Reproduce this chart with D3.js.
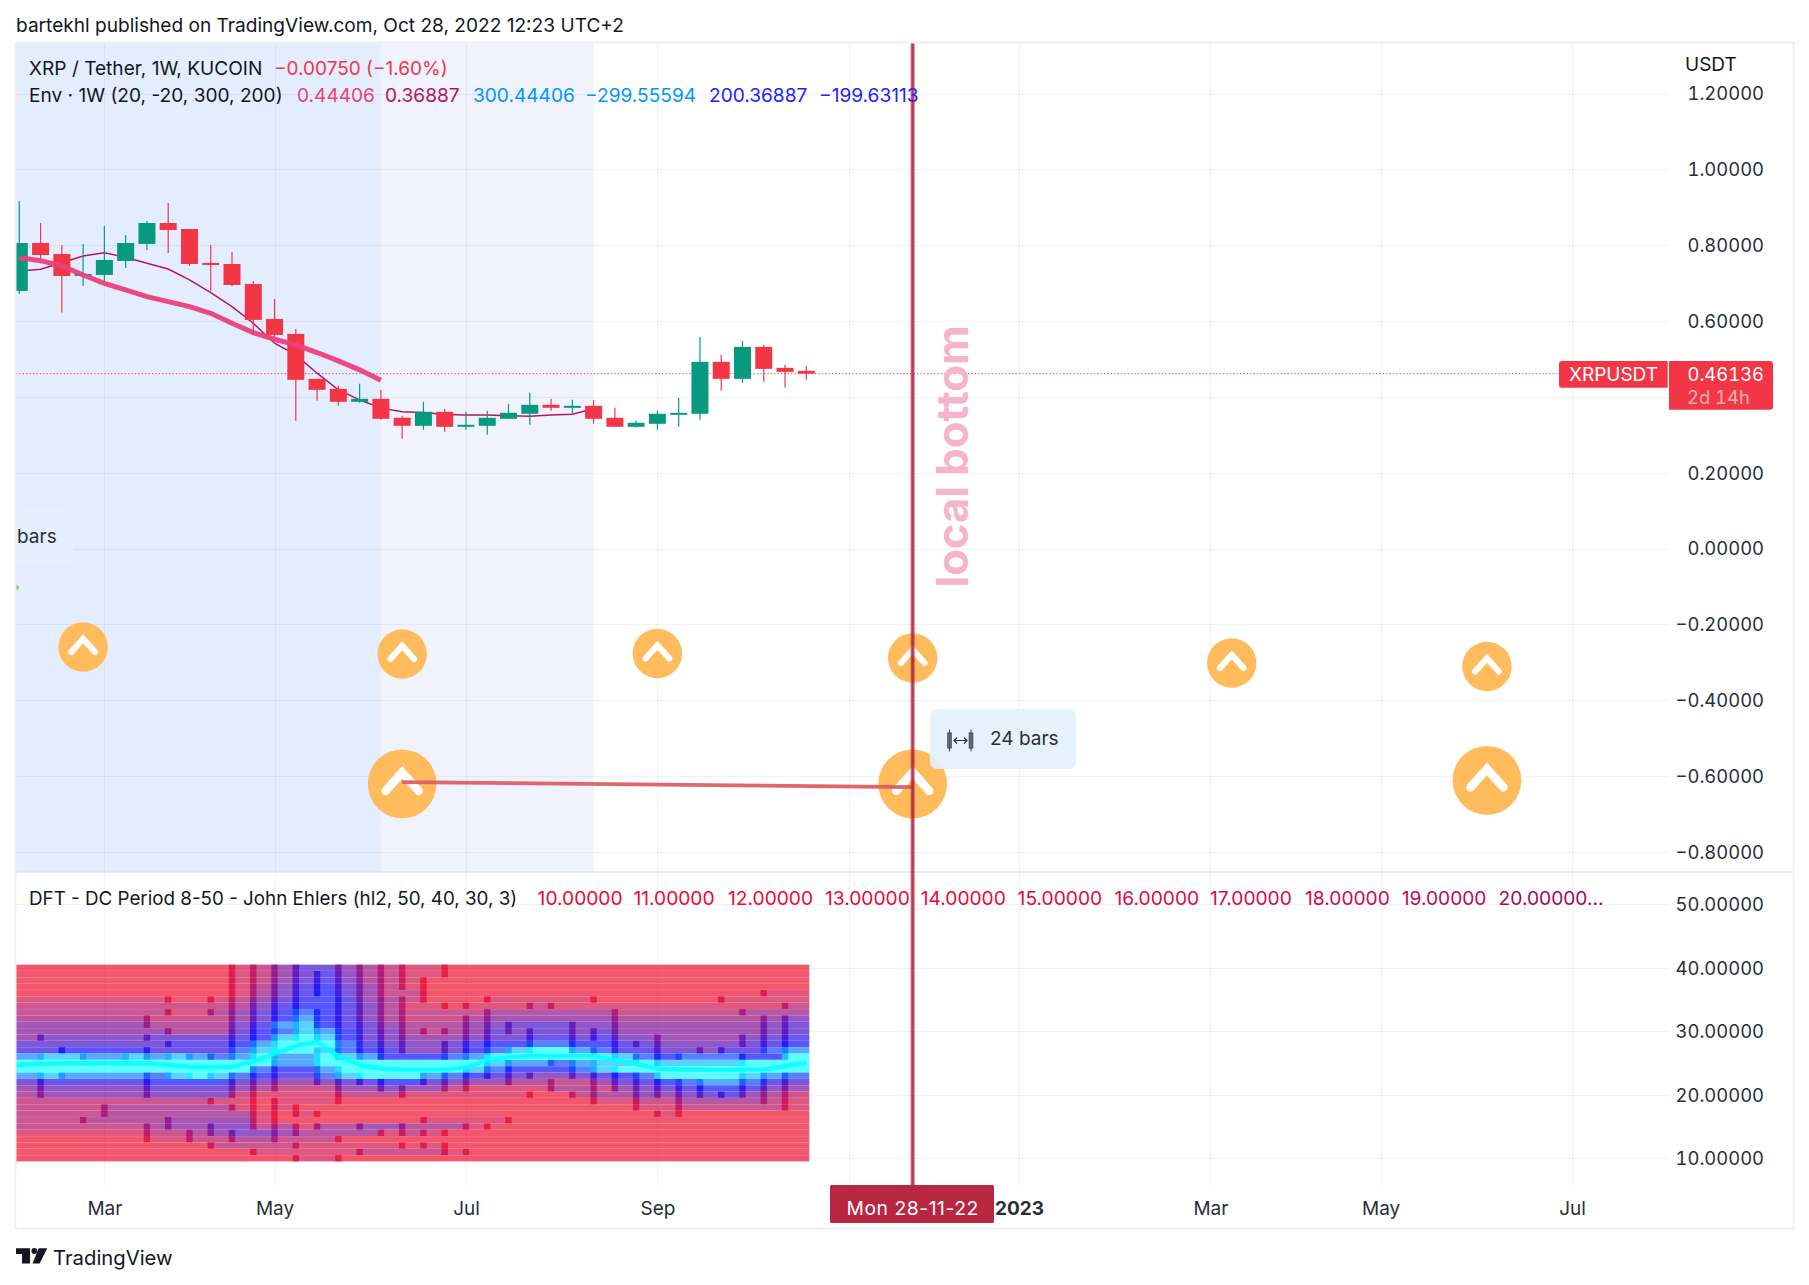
<!DOCTYPE html>
<html><head><meta charset="utf-8">
<script src="https://cdn.jsdelivr.net/npm/d3@7/dist/d3.min.js"></script>
<style>html,body{margin:0;padding:0;background:#fff}svg{display:block}text{font-family:Inter,"Noto Sans",sans-serif}.tab text,text.tab{font-variant-numeric:tabular-nums}</style>
</head><body><div id="chart"></div>
<script>
// ---------- weekly candles (bar 0 .. bar 37), price in USDT
const opens =[.6796,.8061,.7771,.7191,.7218,.7587,.8035,.8588,.8430,.7534,.7507,.6980,.6058,.5663,.4477,.4213,.3871,.3950,.3450,.3238,.3607,.3212,.3238,.3423,.3555,.3792,.3713,.3765,.3449,.3212,.3291,.3528,.3555,.4925,.4477,.5320,.4767,.46886];
const highs =[.9168,.8588,.8008,.8035,.8509,.8271,.8640,.9115,.8430,.8008,.7823,.7059,.6585,.5795,.4477,.4293,.4345,.4187,.3503,.3871,.3686,.3607,.3634,.3818,.4108,.3950,.3923,.3923,.3713,.3370,.3634,.3976,.5584,.5109,.5478,.5373,.4846,.4819];
const lows  =[.6717,.7525,.6225,.6928,.7033,.7402,.7876,.7797,.7454,.6796,.6927,.5636,.5584,.3370,.3897,.3765,.3845,.3397,.2896,.3133,.3080,.3133,.3001,.3423,.3265,.3634,.3555,.3291,.3212,.3186,.3133,.3212,.3396,.4161,.4371,.4398,.4240,.4451];
const closes=[.8061,.7744,.7191,.7244,.7613,.8061,.8588,.8403,.7507,.7481,.6954,.6032,.5636,.4451,.4187,.3871,.3950,.3423,.3238,.3607,.3212,.3265,.3449,.3581,.3792,.3713,.3765,.3423,.3212,.3318,.3555,.3581,.4925,.4477,.5320,.4740,.4661,.46136];
// envelope lines (they stop at bars 17 and 27)
const envUpper=[.7674,.7595,.7454,.7217,.6998,.6822,.6646,.6515,.6383,.6207,.5944,.5698,.5522,.5372,.5171,.4951,.4714,.44406];
const envLower=[.7323,.7367,.7542,.7718,.7806,.7683,.7525,.7375,.7086,.6752,.6383,.5944,.5417,.5109,.4626,.4187,.3924,.3704,.3607,.3590,.3537,.3520,.3520,.3502,.3493,.3520,.3546,.36887];
// DFT dominant cycle line
const dcPeriod=[24.69,24.85,24.95,24.95,24.95,24.95,24.95,24.69,24.43,24.32,24.43,25.2,26.5,27.7,28.4,26.0,24.69,24.16,24.0,24.0,24.0,24.3,25.5,25.9,26.1,26.1,26.1,26.1,25.5,24.85,24.16,24.0,24.0,23.9,24.0,24.0,24.5,25.06];
// DFT spectrum: one array per period row, one power level (0 red .. 8 blue .. 12 cyan) per bar
const heat40=[0,0,0,0,0,0,0,0,0,0,1,2,4,6,6,4,3,2,1,1,0,0,0,0,0,0,0,0,0,0,0,0,0,0,0,0,0,0];
const heat39=[0,0,0,0,0,0,0,0,0,0,1,2,4,6,7,5,3,2,1,1,0,0,0,0,0,0,0,0,0,0,0,0,0,0,0,0,0,0];
const heat38=[0,0,0,0,0,0,0,0,0,0,1,2,4,6,7,5,3,2,1,0,0,0,0,0,0,0,0,0,0,0,0,0,0,0,0,0,0,0];
const heat37=[0,0,0,0,0,0,0,0,0,0,1,3,5,7,8,6,4,2,1,0,0,0,0,0,0,0,0,0,0,0,0,0,0,0,0,0,0,0];
const heat36=[0,0,0,0,0,0,0,0,0,0,1,3,5,7,8,6,4,2,2,0,0,0,0,0,0,0,0,0,0,0,0,0,0,0,0,1,1,1];
const heat35=[1,1,1,1,1,1,1,0,0,1,2,4,6,8,8,7,4,3,2,0,0,0,1,1,1,1,1,0,0,0,0,0,0,1,1,1,1,1];
const heat34=[2,2,2,2,2,2,2,2,2,2,3,5,7,8,8,7,5,3,1,1,0,1,1,1,2,1,1,1,1,1,1,1,1,1,1,1,2,2];
const heat33=[2,2,2,2,2,2,2,1,1,3,4,6,8,9,8,7,5,3,2,2,2,2,3,3,3,3,3,3,2,2,2,2,2,2,3,3,3,3];
const heat32=[3,3,3,3,3,3,2,2,2,2,4,6,8,10,8,7,5,3,2,2,2,3,4,4,4,4,4,4,3,3,3,3,3,3,3,4,5,5];
const heat31=[4,4,4,4,4,4,3,3,3,3,5,7,10,11,8,7,6,4,3,3,3,4,5,6,6,6,5,5,4,4,4,4,4,4,4,5,6,6];
const heat30=[4,4,4,4,4,4,4,3,3,3,6,8,9,11,10,8,6,5,3,2,3,4,6,5,6,6,5,6,4,4,4,4,4,4,4,5,6,6];
const heat29=[4,5,5,5,5,5,6,6,6,6,7,8,11,12,11,8,6,5,4,4,4,5,6,6,7,7,6,7,5,5,4,4,4,4,5,6,7,7];
const heat28=[6,6,6,6,6,6,6,7,7,7,8,10,12,12,12,9,7,6,5,5,6,7,8,8,9,9,8,8,7,6,5,5,5,5,6,7,8,8];
const heat27=[7,7,8,8,8,8,7,7,7,7,9,11,12,12,11,9,8,7,5,5,6,8,9,11,12,12,10,9,7,7,6,6,5,7,7,9,10,10];
const heat26=[10,11,11,10,10,11,10,11,10,9,10,12,10,10,12,11,10,8,8,8,9,10,12,12,12,12,12,12,11,9,8,9,9,9,8,8,12,12];
const heat25=[12,12,12,12,12,12,12,12,12,12,12,12,10,10,12,12,12,12,12,12,12,12,11,10,10,9,10,11,11,12,11,11,11,11,12,12,12,12];
const heat24=[12,12,12,12,12,12,12,12,12,12,12,9,8,8,10,12,12,12,12,12,12,11,9,8,8,8,9,11,12,12,12,12,12,12,12,12,12,12];
const heat23=[10,11,10,10,10,10,9,11,12,11,9,8,7,7,9,11,12,12,12,10,9,8,7,6,5,5,6,7,8,9,12,12,12,12,11,10,9,9];
const heat22=[6,7,7,7,7,7,8,8,8,8,6,5,4,4,5,6,7,8,8,6,5,4,4,3,3,2,2,4,6,7,8,9,10,10,9,7,6,6];
const heat21=[4,5,5,5,5,5,6,6,6,6,4,3,2,2,2,4,4,5,4,4,2,1,1,1,1,3,3,2,4,5,6,7,8,8,7,5,4,4];
const heat20=[3,4,4,4,4,4,5,5,5,5,2,1,1,1,1,2,2,2,1,1,1,1,1,1,0,0,2,3,3,5,4,5,6,7,4,3,2,2];
const heat19=[2,2,2,2,2,2,2,2,2,1,1,0,1,1,1,0,0,0,0,0,0,0,0,0,0,0,0,1,1,2,2,3,3,3,3,2,1,1];
const heat18=[2,2,2,2,3,3,3,3,3,3,1,0,1,0,0,0,0,0,0,0,0,0,0,0,0,0,0,0,0,1,1,2,2,2,2,2,1,1];
const heat17=[2,2,2,2,3,3,3,3,3,3,3,1,0,1,0,0,0,0,0,0,0,0,0,0,0,0,0,0,0,0,1,0,0,0,0,0,0,0];
const heat16=[2,2,2,3,3,3,3,4,4,4,4,1,0,0,0,0,0,0,0,1,1,1,1,0,0,0,0,0,0,0,0,0,0,0,0,0,0,0];
const heat15=[2,2,2,2,2,2,3,4,4,5,5,2,3,1,3,3,4,4,3,3,3,1,0,0,0,0,0,0,0,0,0,0,0,0,0,0,0,0];
const heat14=[1,1,1,1,1,1,2,2,3,4,5,5,4,3,3,3,3,1,2,1,0,0,0,0,0,0,0,0,0,0,0,0,0,0,0,0,0,0];
const heat13=[0,0,0,0,0,0,1,1,2,2,3,3,2,2,2,0,0,0,0,0,0,0,0,0,0,0,0,0,0,0,0,0,0,0,0,0,0,0];
const heat12=[0,0,0,0,0,0,0,0,0,2,2,2,2,1,1,1,1,1,0,1,0,0,0,0,0,0,0,0,0,0,0,0,0,0,0,0,0,0];
const heat11=[0,0,0,0,0,0,0,0,0,0,0,1,1,1,1,1,2,2,2,2,1,0,0,0,0,0,0,0,0,0,0,0,0,0,0,0,0,0];
const heat10=[0,0,0,0,0,0,0,0,0,0,0,0,0,1,1,0,0,0,0,0,0,0,0,0,0,0,0,0,0,0,0,0,0,0,0,0,0,0];
const heatRows=[heat40,heat39,heat38,heat37,heat36,heat35,heat34,heat33,heat32,heat31,heat30,heat29,heat28,heat27,heat26,heat25,heat24,heat23,heat22,heat21,heat20,heat19,heat18,heat17,heat16,heat15,heat14,heat13,heat12,heat11,heat10];
const heatPeriods=[40,39,38,37,36,35,34,33,32,31,30,29,28,27,26,25,24,23,22,21,20,19,18,17,16,15,14,13,12,11,10];
// axes
const priceTicks=[1.2,1,.8,.6,.4,.2,0,-.2,-.4,-.6,-.8];
const dftTicks=[50,40,30,20,10];
const timeTickBars=[4,12,21,30,39,47,56,64,73];
const timeTickLabels=["Mar","May","Jul","Sep","","2023","Mar","May","Jul"];
// drawings
const smallMarkBars=[3,18,30,42,57,69];
const smallMarkPrices=[-.2598,-.2783,-.2770,-.2888,-.3020,-.3112];
const bigMarkBars=[18,42,69];
const bigMarkPrices=[-.6208,-.6208,-.6116];
const trendBars=[18,42];
const trendPrices=[-.6161,-.6293];
const dftLegendValues=["10.00000","11.00000","12.00000","13.00000","14.00000","15.00000","16.00000","17.00000","18.00000","19.00000","20.00000…"];
const dftLegendColors=["#ee0a2c","#ec0a30","#ea0a34","#e80a38","#e60a3c","#e20a40","#dc0a46","#d60a4c","#cc0a52","#bc0a58","#9c0a62"];

const W=1809,H=1285,L=16,R=1793,RG=1669,T=43,P1=872,P2=1185,B=1228;
const svg=d3.select("#chart").append("svg").attr("width",W).attr("height",H).attr("viewBox",`0 0 ${W} ${H}`);
const x=d3.scaleLinear().domain([0,37]).range([19.3,806.3]);
const yP=d3.scaleLinear().domain([.8,-.8]).range([245.3,851.8]);
const yD=d3.scaleLinear().domain([50,10]).range([904.3,1158.3]);
const heatColor=d3.scaleLinear().domain([0,8,12]).range(["#ee0022","#0000ff","#00ffff"]);

svg.append("defs").append("clipPath").attr("id","plot").append("rect").attr("x",L).attr("y",T).attr("width",R-L).attr("height",P2-T);
const plot=svg.append("g").attr("clip-path","url(#plot)");

// background bands
plot.append("rect").attr("x",L).attr("y",T).attr("width",x(17)-L).attr("height",P1-T).attr("fill","#e3edfe");
plot.append("rect").attr("x",x(17)).attr("y",T).attr("width",x(27)-x(17)).attr("height",P1-T).attr("fill","#f0f3fe");

// grids
const gridColor="rgba(42,60,110,.065)";
function styleGrid(g){g.select(".domain").remove();g.selectAll(".tick line").attr("stroke",gridColor).attr("stroke-width",1).attr("shape-rendering","crispEdges");g.selectAll("text").remove();}
plot.append("g").attr("transform",`translate(0,${P2})`).call(d3.axisBottom(x).tickValues(timeTickBars).tickSize(-(P2-T)).tickFormat("")).call(styleGrid);
plot.append("g").attr("transform",`translate(${L},0)`).call(d3.axisRight(yP).tickValues(priceTicks).tickSize(RG-L).tickFormat("")).call(styleGrid);
plot.append("g").attr("transform",`translate(${L},0)`).call(d3.axisRight(yD).tickValues(dftTicks).tickSize(RG-L).tickFormat("")).call(styleGrid);

// pane separator
svg.append("line").attr("x1",L).attr("x2",R).attr("y1",P1).attr("y2",P1).attr("stroke","#e0e3eb").attr("stroke-width",1.6);

// DFT spectrum: runs of one level, neighbouring runs overlap on a bar and look darker
const heatG=plot.append("g");
heatRows.forEach((row,r)=>{
  let s=0;
  for(let i=1;i<=row.length;i++){
    if(i===row.length||row[i]!==row[s]){
      const x0=s===0?L:x(s)-3.2, x1=i===row.length?x(37)+3:x(i)+3.2;
      heatG.append("rect").attr("x",x0).attr("width",x1-x0).attr("y",yD(heatPeriods[r])-3.15).attr("height",6.25)
        .attr("fill",heatColor(row[s])).attr("fill-opacity",.66);
      s=i;
    }
  }
});
plot.append("path").datum(dcPeriod).attr("fill","none").attr("stroke","#00ffff").attr("stroke-opacity",.85).attr("stroke-width",4.5).attr("stroke-linejoin","round")
  .attr("d",d3.line().x((d,i)=>i===0?L:x(i)).y(d=>yD(d)));

// current price line
plot.append("line").attr("x1",L).attr("x2",1559).attr("y1",yP(closes[37])).attr("y2",yP(closes[37])).attr("stroke","#f23645").attr("stroke-width",1).attr("stroke-dasharray","1.2 2.2");

// envelopes
plot.append("path").datum(envLower).attr("fill","none").attr("stroke","#b7145f").attr("stroke-width",1.5).attr("d",d3.line().x((d,i)=>x(i)).y(d=>yP(d)));

// candles
const c=plot.append("g").selectAll("g").data(opens).join("g");
const colr=(d,i)=>closes[i]>=opens[i]?"#089981":"#f23645";
c.append("line").attr("x1",(d,i)=>x(i)).attr("x2",(d,i)=>x(i)).attr("y1",(d,i)=>yP(highs[i])).attr("y2",(d,i)=>yP(lows[i])).attr("stroke",colr).attr("stroke-width",1.2);
c.append("rect").attr("x",(d,i)=>x(i)-8.5).attr("width",17).attr("y",(d,i)=>yP(Math.max(opens[i],closes[i]))).attr("height",(d,i)=>Math.max(2,Math.abs(yP(opens[i])-yP(closes[i])))).attr("fill",colr);

plot.append("path").datum(envUpper).attr("fill","none").attr("stroke","#ec407a").attr("stroke-opacity",.95).attr("stroke-width",5).attr("d",d3.line().x((d,i)=>x(i)).y(d=>yP(d)));

// arrow-mark flags
function mark(g,bar,price,r){
  const gg=g.append("g").attr("transform",`translate(${x(bar)},${yP(price)})`);
  gg.append("circle").attr("r",r).attr("fill","#ffbb5c");
  const k=r/34.4;
  gg.append("path").attr("d",`M${-16.5*k},${7*k}L0,${-11.5*k}L${16.5*k},${7*k}`).attr("fill","none").attr("stroke","#fff").attr("stroke-width",8.5*k).attr("stroke-linejoin","miter").attr("stroke-linecap","round");
}
const marks=plot.append("g");
smallMarkBars.forEach((b,i)=>mark(marks,b,smallMarkPrices[i],24.7));
bigMarkBars.forEach((b,i)=>mark(marks,b,bigMarkPrices[i],34.4));

// trend line
plot.append("line").attr("x1",x(trendBars[0])).attr("x2",x(trendBars[1])).attr("y1",yP(trendPrices[0])).attr("y2",yP(trendPrices[1])).attr("stroke","#dc5a60").attr("stroke-opacity",.92).attr("stroke-width",3.6);

// vertical line
const vx=x(42);
svg.append("line").attr("x1",vx).attr("x2",vx).attr("y1",T).attr("y2",P2).attr("stroke","#b7273f").attr("stroke-opacity",.76).attr("stroke-width",4);
svg.append("line").attr("x1",vx).attr("x2",vx).attr("y1",T).attr("y2",P2).attr("stroke","#a01c30").attr("stroke-opacity",.55).attr("stroke-width",1.2);

// bars range label boxes
svg.append("rect").attr("x",930).attr("y",709).attr("width",146).attr("height",60).attr("rx",7).attr("fill","#e3f1fb").attr("fill-opacity",.93);
svg.append("rect").attr("x",L).attr("y",510).attr("width",57).attr("height",55).attr("rx",7).attr("fill","#e5effe");
const ic=svg.append("g").attr("stroke","#4a5160").attr("fill","none");
[[949.5],[971]].forEach(([cx])=>{
  ic.append("rect").attr("x",cx-1.7).attr("y",733).attr("width",3.4).attr("height",15).attr("stroke-width",1.2).attr("fill","#7d8590");
  ic.append("line").attr("x1",cx).attr("x2",cx).attr("y1",729.5).attr("y2",751.5).attr("stroke-width",1.1);
});
ic.append("path").attr("d","M954,740.5H967M957,737.5L954,740.5L957,743.5M964,737.5L967,740.5L964,743.5").attr("stroke-width",1.2).attr("stroke","#2a2e39");
svg.append("path").attr("d","M16,584L19.5,587.5L16,591Z").attr("fill","#6fcf7a");

// frame
svg.append("rect").attr("x",15.5).attr("y",42.5).attr("width",1778).attr("height",1186).attr("fill","none").attr("stroke","#eff0f4").attr("stroke-width",2);

// axes
const fmt=v=>d3.format(".5f")(v).replace("-","−");
function styleAxis(g,color){g.attr("class","tab");g.select(".domain").remove();g.selectAll(".tick line").remove();g.selectAll("text").attr("x",0).attr("dy","0.34em").attr("text-anchor","end").attr("font-size",18.4).attr("fill",color);}
svg.append("g").attr("transform","translate(1764,0)").call(d3.axisRight(yP).tickValues(priceTicks).tickFormat(fmt)).call(g=>styleAxis(g,"#2a2e39"));
svg.append("g").attr("transform","translate(1764,0)").call(d3.axisRight(yD).tickValues(dftTicks).tickFormat(fmt)).call(g=>styleAxis(g,"#2a2e39"));

const ax=svg.append("g").attr("transform",`translate(0,${P2})`).call(d3.axisBottom(x).tickValues(timeTickBars).tickFormat((d,i)=>timeTickLabels[i]).tickSize(0).tickPadding(0));
ax.select(".domain").remove();
ax.selectAll("text").attr("y",30).attr("dy",0).attr("font-size",19).attr("fill","#2a2e39").attr("font-weight",(d,i)=>timeTickLabels[i]==="2023"?700:400).attr("dominant-baseline","auto");

// time tag
svg.append("rect").attr("x",830).attr("y",P2).attr("width",164).attr("height",38).attr("rx",1.5).attr("fill","#b7273f");
function txt(s,px,py,size,color,o={}){const t=svg.append("text").attr("x",px).attr("y",py).attr("font-size",size).attr("fill",color).attr("font-weight",o.w||400).attr("text-anchor",o.a||"start").attr("fill-opacity",o.op||1).text(s);if(o.tab)t.attr("class","tab");if(o.ls)t.attr("letter-spacing",o.ls);return t;}
txt("Mon 28-11-22",vx,1214.5,19.3,"#fff",{a:"middle",ls:.55});

// price tags
svg.append("path").attr("d","M1562,361H1667.7V387.7H1562a3,3 0 0 1 -3,-3V364a3,3 0 0 1 3,-3Z").attr("fill","#f23645");
svg.append("path").attr("d","M1669,361H1770a3,3 0 0 1 3,3V406.7a3,3 0 0 1 -3,3H1669Z").attr("fill","#f23645");
txt("XRPUSDT",1613.5,381,19,"#fff",{a:"middle"});
txt(fmt(closes[37]),1764,380.5,18.4,"#fff",{a:"end",tab:1});
txt("2d 14h",1687,404,18.4,"#fff",{op:.62,tab:1});
txt("USDT",1685,71,19,"#131722");

// header text
txt("bartekhl published on TradingView.com, Oct 28, 2022 12:23 UTC+2",16,32,19.1,"#131722");
txt("XRP / Tether, 1W, KUCOIN",29,75,19.1,"#131722");
txt("−0.00750 (−1.60%)",274,75,19,"#f23645");
txt("Env · 1W (20, -20, 300, 200)",29,102,19.1,"#131722");
const envLegendText=["0.44406","0.36887","300.44406","−299.55594","200.36887","−199.63113"];
const envLegendX=[297,385,473,585,709,819];
const envLegendColor=["#ec407a","#b7145f","#0096ff","#0096ff","#1e22ff","#1e22ff"];
envLegendText.forEach((s,i)=>txt(s,envLegendX[i],102,19.1,envLegendColor[i]));
txt("DFT - DC Period 8-50 - John Ehlers (hl2, 50, 40, 30, 3)",29,905,18.8,"#131722");
const dftLegendX=[537.6,633.4,728,825,920.7,1017.6,1114.5,1210,1305,1401.7,1498.6];
dftLegendValues.forEach((s,i)=>txt(s,dftLegendX[i],905,19.2,dftLegendColors[i]));

// local bottom
svg.append("text").attr("transform","translate(968,456.5) rotate(-90)").attr("text-anchor","middle").attr("font-size",43.5).attr("font-weight",700).attr("fill","#f7b3cb").text("local bottom");
// range labels
txt("24 bars",990,744.5,19,"#2a2e39");
txt("bars",17,542.5,19,"#2a2e39");

// logo
svg.append("path").attr("d","M16,1248.3H30V1263.5H22V1254H16Z").attr("fill","#131722");
svg.append("circle").attr("cx",34.3).attr("cy",1251).attr("r",2.9).attr("fill","#131722");
svg.append("path").attr("d","M38.6,1248.3H47.3L39.6,1263.5H32.6Z").attr("fill","#131722");
txt("TradingView",53,1265,20.3,"#131722");
</script></body></html>
